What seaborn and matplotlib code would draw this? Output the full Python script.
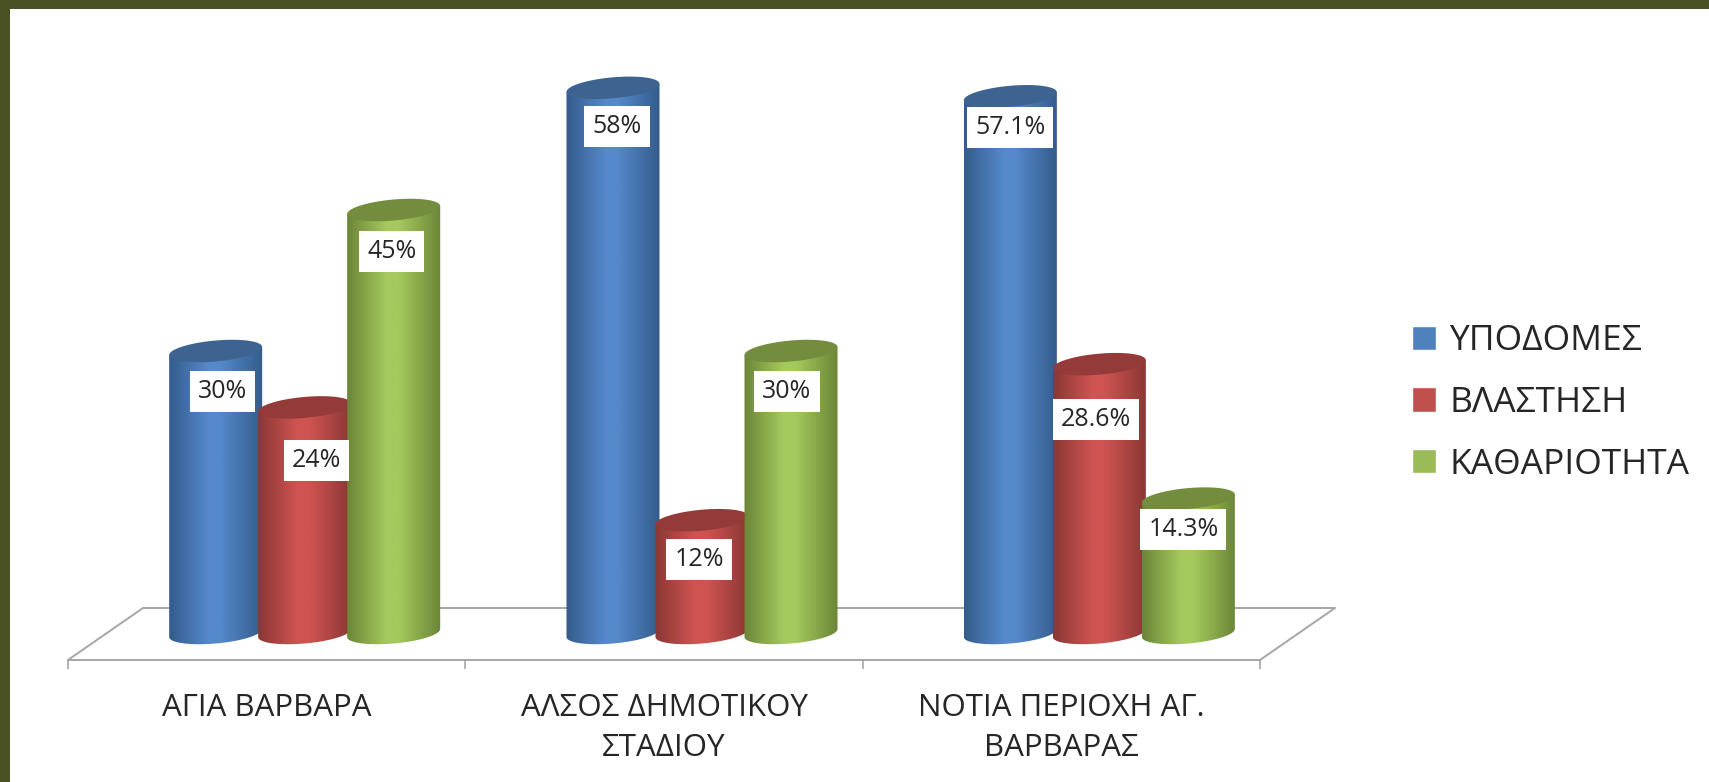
#!/usr/bin/python3
### IMPORTS ###
import numpy as np
import pandas as pd
import matplotlib as mpl
mpl.use("Agg")
import matplotlib.pyplot as plt
from matplotlib.colors import LinearSegmentedColormap
from matplotlib.patches import Polygon, Rectangle
import seaborn as sns

### DATA ###
categories = ["ΑΓΙΑ ΒΑΡΒΑΡΑ", "ΑΛΣΟΣ ΔΗΜΟΤΙΚΟΥ\nΣΤΑΔΙΟΥ", "ΝΟΤΙΑ ΠΕΡΙΟΧΗ ΑΓ.\nΒΑΡΒΑΡΑΣ"]
series_names = ["ΥΠΟΔΟΜΕΣ", "ΒΛΑΣΤΗΣΗ", "ΚΑΘΑΡΙΟΤΗΤΑ"]
ypodomes = [30, 58, 57.1]
vlastisi = [24, 12, 28.6]
kathariotita = [45, 30, 14.3]
value_labels = [["30%", "58%", "57.1%"], ["24%", "12%", "28.6%"], ["45%", "30%", "14.3%"]]

### STYLE ###
W, H = 1709, 782
legend_colors = ["#4F81BD", "#C0504D", "#9BBB59"]
edge_colors = ["#345C8B", "#8A3735", "#6B8537"]
mid_colors = ["#5589CB", "#CF5451", "#A5C95D"]
top_colors = ["#3D6491", "#943A38", "#748C3E"]
# pixel shift of each label box from the top of its bar (dx, dy), per series then category
label_shift = [[(7, 40), (4, 39), (0, 31)], [(12, 53), (-3, 39), (-3, 55)], [(-2, 41), (-4, 40), (-5, 31)]]
FLOOR_LEFT, FLOOR_RIGHT, FLOOR_FRONT, FLOOR_BACK = 68, 1260, 660, 608
DEPTH = 75
BAR_SHIFT = 38
BASE_Y = 633
BELOW_BASE = 25
PX_PER_PCT = 9.4

sns.set_style("white")
plt.rcParams["font.family"] = ["Open Sans", "DejaVu Sans"]
plt.rcParams["text.color"] = "#262626"


def px_axes(fig, left, right, top, bottom):
    return fig.add_axes([left / W, 1 - bottom / H, (right - left) / W, (bottom - top) / H])


### FIGURE ###
fig = plt.figure(figsize=(W / 100, H / 100), dpi=100, facecolor="white")
# olive frame of the slide
fig.add_artist(Rectangle((0, 1 - 9 / H), 1, 9 / H, transform=fig.transFigure, color="#4A5125", lw=0))
fig.add_artist(Rectangle((0, 0), 10 / W, 1, transform=fig.transFigure, color="#4A5125", lw=0))

# FLOOR AND CATEGORY AXIS
floor_ax = px_axes(fig, FLOOR_LEFT, FLOOR_RIGHT, FLOOR_BACK, FLOOR_FRONT)
floor_ax.patch.set_visible(False)
floor_ax.set_xlim(-0.5, 2.5)
floor_ax.set_ylim(0, 1)
for side in ["top", "left", "right"]:
    floor_ax.spines[side].set_visible(False)
floor_ax.spines["bottom"].set_color("#A6A6A6")
floor_ax.spines["bottom"].set_linewidth(1.4)
floor_ax.set_yticks([])
floor_ax.set_xticks([-0.5, 0.5, 1.5, 2.5])
floor_ax.set_xticklabels([])
floor_ax.tick_params(axis="x", which="major", bottom=True, length=6.5, width=1.2, color="#A6A6A6")
floor_ax.set_xticks([0, 1, 2], minor=True)
floor_ax.set_xticklabels(categories, minor=True, fontsize=22.5, linespacing=1.45, color="#262626")
floor_ax.tick_params(axis="x", which="minor", bottom=False, length=0, pad=23.5)
depth_frac = DEPTH / (FLOOR_RIGHT - FLOOR_LEFT)
floor_ax.plot([0, depth_frac, 1 + depth_frac, 1], [0, 1, 1, 0], transform=floor_ax.transAxes,
              color="#A6A6A6", lw=1.4, clip_on=False, zorder=1)

# BARS
df = pd.DataFrame({
    "category": categories * 3,
    "series": np.repeat(series_names, 3),
    "value": ypodomes + vlastisi + kathariotita,
})
ax = px_axes(fig, FLOOR_LEFT + BAR_SHIFT, FLOOR_RIGHT + BAR_SHIFT, 0, BASE_Y + BELOW_BASE)
ax.patch.set_visible(False)
sns.barplot(data=df, x="category", y="value", hue="series", order=categories, hue_order=series_names,
            palette=legend_colors, width=0.672, gap=-0.045, saturation=1, errorbar=None, ax=ax)
ylim = (-BELOW_BASE / PX_PER_PCT, BASE_Y / PX_PER_PCT)
ax.set_xlim(-0.5, 2.5)
ax.set_ylim(*ylim)
ax.axis("off")
sns.move_legend(ax, "center left", bbox_to_anchor=(1380 / W, 1 - 403 / H), bbox_transform=fig.transFigure,
                title=None, frameon=False, fontsize=25.5, handlelength=0.68, handleheight=0.68,
                handletextpad=0.38, labelspacing=0.78, labelcolor="#262626")

ELL_H = 10.5 / PX_PER_PCT
ELL_SKEW = 4 / PX_PER_PCT

for i, container in enumerate(ax.containers):
    cmap = LinearSegmentedColormap.from_list(
        "cyl", [(0, edge_colors[i]), (0.42, mid_colors[i]), (0.55, mid_colors[i]), (1, edge_colors[i])])
    for j, bar in enumerate(container.patches):
        bar.set_visible(False)
        x0, w = bar.get_x(), bar.get_width()
        val = bar.get_height()
        t = np.linspace(0, 2 * np.pi, 90)
        ex = np.cos(t)
        xs = x0 + w / 2 + w / 2 * ex
        skew = ELL_SKEW * ex
        # body: down the left side, round the front of the base, up the right side
        t_low = np.linspace(np.pi, 2 * np.pi, 45)
        low_x = x0 + w / 2 + w / 2 * np.cos(t_low)
        low_y = ELL_H * np.sin(t_low) + ELL_SKEW * np.cos(t_low)
        body_pts = np.column_stack([np.r_[x0, low_x, x0 + w], np.r_[val - ELL_SKEW, low_y, val + ELL_SKEW]])
        body = Polygon(body_pts, closed=True, transform=ax.transData, fc="none", ec="none")
        ax.add_patch(body)
        img = ax.imshow(np.linspace(0, 1, 256).reshape(1, -1), cmap=cmap, aspect="auto",
                        extent=(x0, x0 + w, -ELL_H * 2, val + ELL_H * 2), zorder=3 + i, interpolation="bilinear")
        img.set_clip_path(body)
        # top of the cylinder
        ax.add_patch(Polygon(np.column_stack([xs, val + ELL_H * np.sin(t) + skew]), closed=True,
                             fc=top_colors[i], ec="none", zorder=3 + i, clip_on=False))
        dx, dy = label_shift[i][j]
        ax.annotate(value_labels[i][j], xy=(x0 + w / 2, val), xytext=(dx * 0.72, -dy * 0.72),
                    textcoords="offset points", ha="center", va="center", fontsize=18, color="#262626",
                    zorder=15, bbox=dict(boxstyle="square,pad=0.32", fc="white", ec="none"))
ax.set_xlim(-0.5, 2.5)
ax.set_ylim(*ylim)

fig.savefig("out.png", dpi=100)
